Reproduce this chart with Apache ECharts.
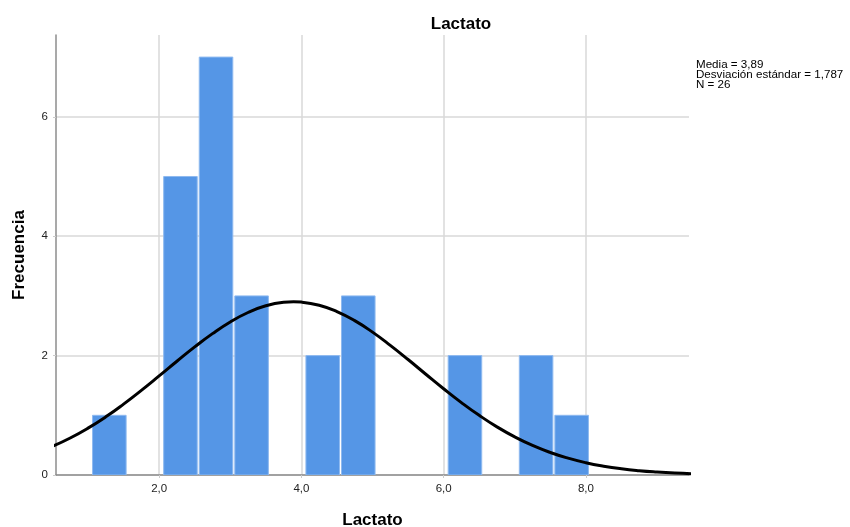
<!DOCTYPE html>
<html>
<head>
<meta charset="utf-8">
<script src="https://cdn.jsdelivr.net/npm/echarts@6/dist/echarts.min.js"></script>
<style>html,body{margin:0;padding:0;background:#fff}#c{width:850px;height:527px}</style>
</head>
<body>
<div id="c"></div>
<script>
// Histogram bins (start, end) and counts
var binStart = [1.05, 2.05, 2.55, 3.05, 4.05, 4.55, 6.05, 7.05, 7.55];
var binEnd   = [1.55, 2.55, 3.05, 3.55, 4.55, 5.05, 6.55, 7.55, 8.05];
var counts   = [1, 5, 7, 3, 2, 3, 2, 2, 1];
// Normal curve points
var curveX = [0.5,0.75,1.0,1.25,1.5,1.75,2.0,2.25,2.5,2.75,3.0,3.25,3.5,3.75,3.89,4.0,4.25,4.5,4.75,5.0,5.25,5.5,5.75,6.0,6.25,6.5,6.75,7.0,7.25,7.5,7.75,8.0,8.25,8.5,8.75,9.0,9.25,9.5];
var curveY = [0.480,0.620,0.785,0.974,1.187,1.417,1.659,1.905,2.145,2.368,2.564,2.722,2.834,2.893,2.902,2.896,2.844,2.738,2.585,2.393,2.172,1.934,1.688,1.445,1.213,0.999,0.806,0.638,0.495,0.377,0.282,0.206,0.148,0.104,0.072,0.049,0.032,0.021];
var xTicks = [2, 4, 6, 8];
var yTicks = [0, 2, 4, 6];
var statsLines = ['Media = 3,89', 'Desviación estándar = 1,787', 'N = 26'];

var barData = binStart.map(function (s, i) { return [s, binEnd[i], counts[i]]; });
var curveData = curveX.map(function (x, i) { return [x, curveY[i]]; });

var chart = echarts.init(document.getElementById('c'));
var font = '"Liberation Sans", Arial, sans-serif';
chart.setOption({
  animation: false,
  textStyle: { fontFamily: font },
  title: {
    text: 'Lactato', left: 456, top: 11, textAlign: 'center',
    textStyle: { fontFamily: font, fontSize: 17, fontWeight: 'bold', color: '#000' }
  },
  graphic: [{
    type: 'text', left: 696, top: 59,
    style: { text: statsLines.join('\n'), font: '11.6px "Liberation Sans", Arial, sans-serif', lineHeight: 10, fill: '#000' }
  }],
  grid: { left: 56, right: 161, top: 35, bottom: 52, outerBoundsMode: 'none', containLabel: false },
  xAxis: {
    type: 'value', min: 0.55, max: 9.45,
    name: 'Lactato', nameLocation: 'middle', nameGap: 37,
    nameTextStyle: { fontFamily: font, fontSize: 17, fontWeight: 'bold', color: '#000' },
    axisLine: { show: true, lineStyle: { color: '#8c8c8c', width: 1.5 } },
    axisTick: { show: true, customValues: xTicks, length: 3, lineStyle: { color: '#cccccc' } },
    axisLabel: { customValues: xTicks, margin: 8, fontSize: 11.5, color: '#222',
      formatter: function (v) { return v.toFixed(1).replace('.', ','); } },
    splitLine: { show: true, lineStyle: { color: '#d9d9d9', width: 1.5 } }
  },
  yAxis: {
    type: 'value', min: 0, max: 7.37,
    name: 'Frecuencia', nameLocation: 'middle', nameGap: 28,
    nameTextStyle: { fontFamily: font, fontSize: 17, fontWeight: 'bold', color: '#000' },
    axisLine: { show: true, lineStyle: { color: '#8c8c8c', width: 1.5 } },
    axisTick: { show: true, customValues: yTicks, length: 3, lineStyle: { color: '#cccccc' } },
    axisLabel: { customValues: yTicks, margin: 8, fontSize: 11.5, color: '#222' },
    splitLine: { show: true, lineStyle: { color: '#d9d9d9', width: 1.5 } }
  },
  series: [{
    type: 'custom',
    data: barData,
    clip: true,
    renderItem: function (params, api) {
      var p0 = api.coord([api.value(0), api.value(2)]);
      var p1 = api.coord([api.value(1), 0]);
      return {
        type: 'rect',
        shape: { x: p0[0] + 1, y: p0[1], width: p1[0] - p0[0] - 2, height: p1[1] - p0[1] },
        style: { fill: '#5596e6', stroke: '#8fbaf0', lineWidth: 1 }
      };
    },
    z: 2
  }, {
    type: 'line',
    data: curveData,
    smooth: true,
    showSymbol: false,
    clip: true,
    lineStyle: { color: '#000', width: 3 },
    z: 3
  }]
});
</script>
</body>
</html>
